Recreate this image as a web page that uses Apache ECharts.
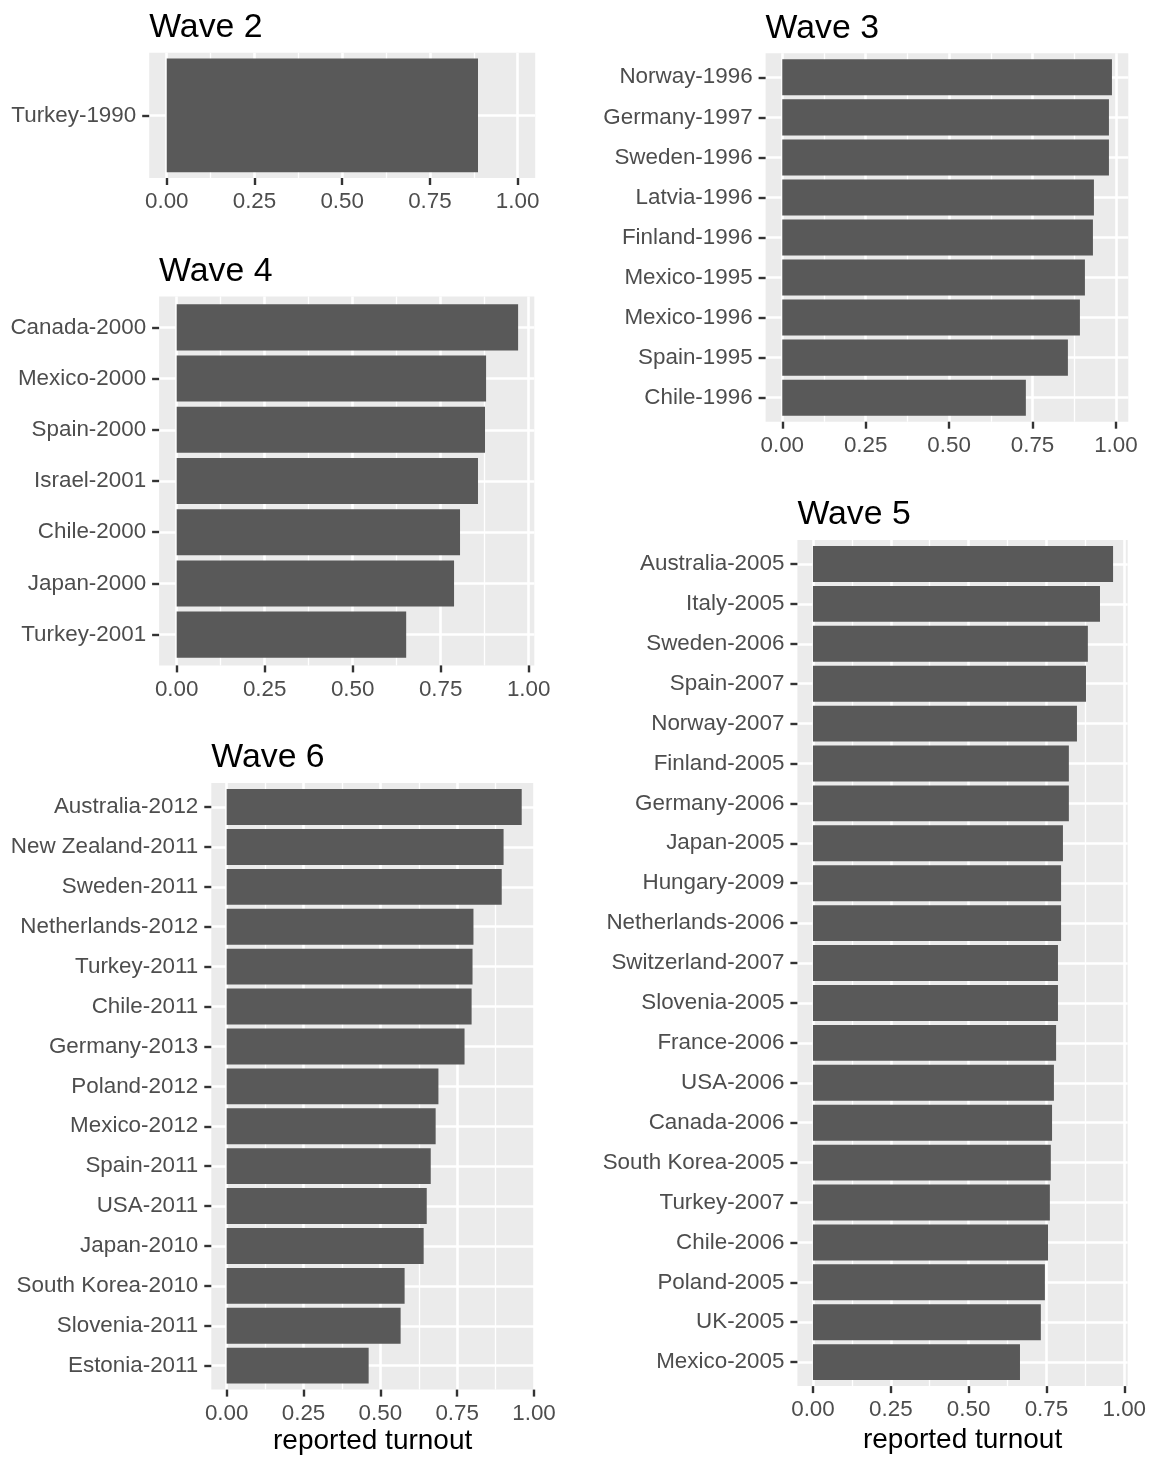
<!DOCTYPE html>
<html>
<head>
<meta charset="utf-8">
<title>Reported turnout by wave</title>
<script src="https://cdn.jsdelivr.net/npm/echarts@6/dist/echarts.min.js"></script>
<style>
  html, body { margin: 0; padding: 0; background: #ffffff; }
  #chart { width: 1152px; height: 1459px; }
</style>
</head>
<body>
<div id="chart"></div>
<script>
// ---- data (top-to-bottom order within each wave) ----
const wave2Labels = ['Turkey-1990'];
const wave2Values = [0.887];

const wave3Labels = ['Norway-1996', 'Germany-1997', 'Sweden-1996', 'Latvia-1996', 'Finland-1996',
  'Mexico-1995', 'Mexico-1996', 'Spain-1995', 'Chile-1996'];
const wave3Values = [0.988, 0.979, 0.979, 0.934, 0.931, 0.907, 0.892, 0.856, 0.730];

const wave4Labels = ['Canada-2000', 'Mexico-2000', 'Spain-2000', 'Israel-2001', 'Chile-2000',
  'Japan-2000', 'Turkey-2001'];
const wave4Values = [0.970, 0.879, 0.876, 0.856, 0.805, 0.788, 0.652];

const wave5Labels = ['Australia-2005', 'Italy-2005', 'Sweden-2006', 'Spain-2007', 'Norway-2007',
  'Finland-2005', 'Germany-2006', 'Japan-2005', 'Hungary-2009', 'Netherlands-2006',
  'Switzerland-2007', 'Slovenia-2005', 'France-2006', 'USA-2006', 'Canada-2006',
  'South Korea-2005', 'Turkey-2007', 'Chile-2006', 'Poland-2005', 'UK-2005', 'Mexico-2005'];
const wave5Values = [0.964, 0.922, 0.883, 0.877, 0.848, 0.822, 0.822, 0.803, 0.797, 0.797,
  0.787, 0.787, 0.781, 0.774, 0.768, 0.764, 0.761, 0.755, 0.745, 0.732, 0.665];

const wave6Labels = ['Australia-2012', 'New Zealand-2011', 'Sweden-2011', 'Netherlands-2012',
  'Turkey-2011', 'Chile-2011', 'Germany-2013', 'Poland-2012', 'Mexico-2012', 'Spain-2011',
  'USA-2011', 'Japan-2010', 'South Korea-2010', 'Slovenia-2011', 'Estonia-2011'];
const wave6Values = [0.960, 0.901, 0.895, 0.803, 0.800, 0.797, 0.774, 0.689, 0.680, 0.664,
  0.651, 0.641, 0.579, 0.566, 0.462];

const xMajorTicks = [0, 0.25, 0.5, 0.75, 1];
const xMinorTicks = [0.125, 0.375, 0.625, 0.875];
const xAxisTitle = 'reported turnout';

// ---- panel layout (pixels) and visible x range ----
const panels = [
  { title: 'Wave 2', labels: wave2Labels, values: wave2Values,
    left: 149.2, right: 535.2, top: 52.7, bottom: 178, xMax: 1.05, pad: 0.495, axisTitle: false },
  { title: 'Wave 3', labels: wave3Labels, values: wave3Values,
    left: 765.6, right: 1128.3, top: 53.3, bottom: 421.7, xMax: 1.037, pad: 0.6, axisTitle: false },
  { title: 'Wave 4', labels: wave4Labels, values: wave4Values,
    left: 159.1, right: 534.3, top: 296.6, bottom: 665.4, xMax: 1.016, pad: 0.6, axisTitle: false },
  { title: 'Wave 5', labels: wave5Labels, values: wave5Values,
    left: 797.4, right: 1127.7, top: 540, bottom: 1389.7, xMax: 1.011, pad: 0.6, axisTitle: true },
  { title: 'Wave 6', labels: wave6Labels, values: wave6Values,
    left: 211.3, right: 534, top: 783.1, bottom: 1389.6, xMax: 1.0, pad: 0.6, axisTitle: true }
];

const FONT = "'Liberation Sans', Arial, Helvetica, sans-serif";
const PANEL_BG = '#EBEBEB';
const BAR_COLOR = '#595959';
const TEXT_COLOR = '#4D4D4D';
const TICK_COLOR = '#333333';
const X_MIN = -0.05;
const BAR_HALF = 0.45;
const TICK_FONT = 22.4;

const option = {
  animation: false,
  backgroundColor: '#ffffff',
  title: [],
  grid: [],
  xAxis: [],
  yAxis: [],
  series: []
};

panels.forEach((p, i) => {
  const n = p.labels.length;
  option.title.push({
    text: p.title,
    left: p.left,
    top: p.top - 42,
    padding: 0,
    textStyle: { fontFamily: FONT, fontSize: 33.8, fontWeight: 'normal', color: '#000000', lineHeight: 34 }
  });
  option.grid.push({
    left: p.left,
    top: p.top,
    width: p.right - p.left,
    height: p.bottom - p.top,
    show: true,
    backgroundColor: PANEL_BG,
    borderWidth: 0,
    containLabel: false
  });
  // minor vertical grid lines
  option.xAxis.push({
    type: 'value', gridIndex: i, position: 'bottom', min: X_MIN, max: p.xMax,
    axisLine: { show: false }, axisLabel: { show: false },
    axisTick: { show: false, customValues: xMinorTicks },
    splitLine: { show: true, lineStyle: { color: '#ffffff', width: 1.3 } }
  });
  // major vertical grid lines, ticks and labels
  option.xAxis.push({
    type: 'value', gridIndex: i, position: 'bottom', min: X_MIN, max: p.xMax,
    axisLine: { show: false, onZero: false },
    axisTick: { show: true, length: 7, customValues: xMajorTicks,
      lineStyle: { color: TICK_COLOR, width: 2.4 } },
    axisLabel: { show: true, customValues: xMajorTicks, margin: 13,
      formatter: v => v.toFixed(2), fontFamily: FONT, fontSize: TICK_FONT, color: TEXT_COLOR },
    splitLine: { show: true, lineStyle: { color: '#ffffff', width: 2.6 } },
    name: p.axisTitle ? xAxisTitle : '',
    nameLocation: 'middle',
    nameGap: 38,
    nameTextStyle: { fontFamily: FONT, fontSize: 28, color: '#000000' }
  });
  const yTicks = p.labels.map((_, k) => k + 1);
  option.yAxis.push({
    type: 'value', gridIndex: i, position: 'left', inverse: true,
    min: 1 - p.pad, max: n + p.pad,
    axisLine: { show: false, onZero: false },
    axisTick: { show: true, length: 7, customValues: yTicks,
      lineStyle: { color: TICK_COLOR, width: 2.4 } },
    axisLabel: { show: true, customValues: yTicks, margin: 13, padding: [8, 0, 0, 0],
      formatter: v => p.labels[Math.round(v) - 1] || '',
      fontFamily: FONT, fontSize: TICK_FONT, color: TEXT_COLOR },
    splitLine: { show: true, lineStyle: { color: '#ffffff', width: 2.6 } }
  });
  option.series.push({
    type: 'custom',
    xAxisIndex: 2 * i + 1,
    yAxisIndex: i,
    data: p.values.map((v, k) => [v, k + 1]),
    encode: { x: 0, y: 1 },
    renderItem: (params, api) => {
      const v = api.value(0);
      const y = api.value(1);
      const a = api.coord([0, y - BAR_HALF]);
      const b = api.coord([v, y + BAR_HALF]);
      return {
        type: 'rect',
        shape: {
          x: Math.min(a[0], b[0]),
          y: Math.min(a[1], b[1]),
          width: Math.abs(b[0] - a[0]),
          height: Math.abs(b[1] - a[1])
        },
        style: { fill: BAR_COLOR }
      };
    }
  });
});

const chart = echarts.init(document.getElementById('chart'), null, { renderer: 'canvas' });
chart.setOption(option);
</script>
</body>
</html>
